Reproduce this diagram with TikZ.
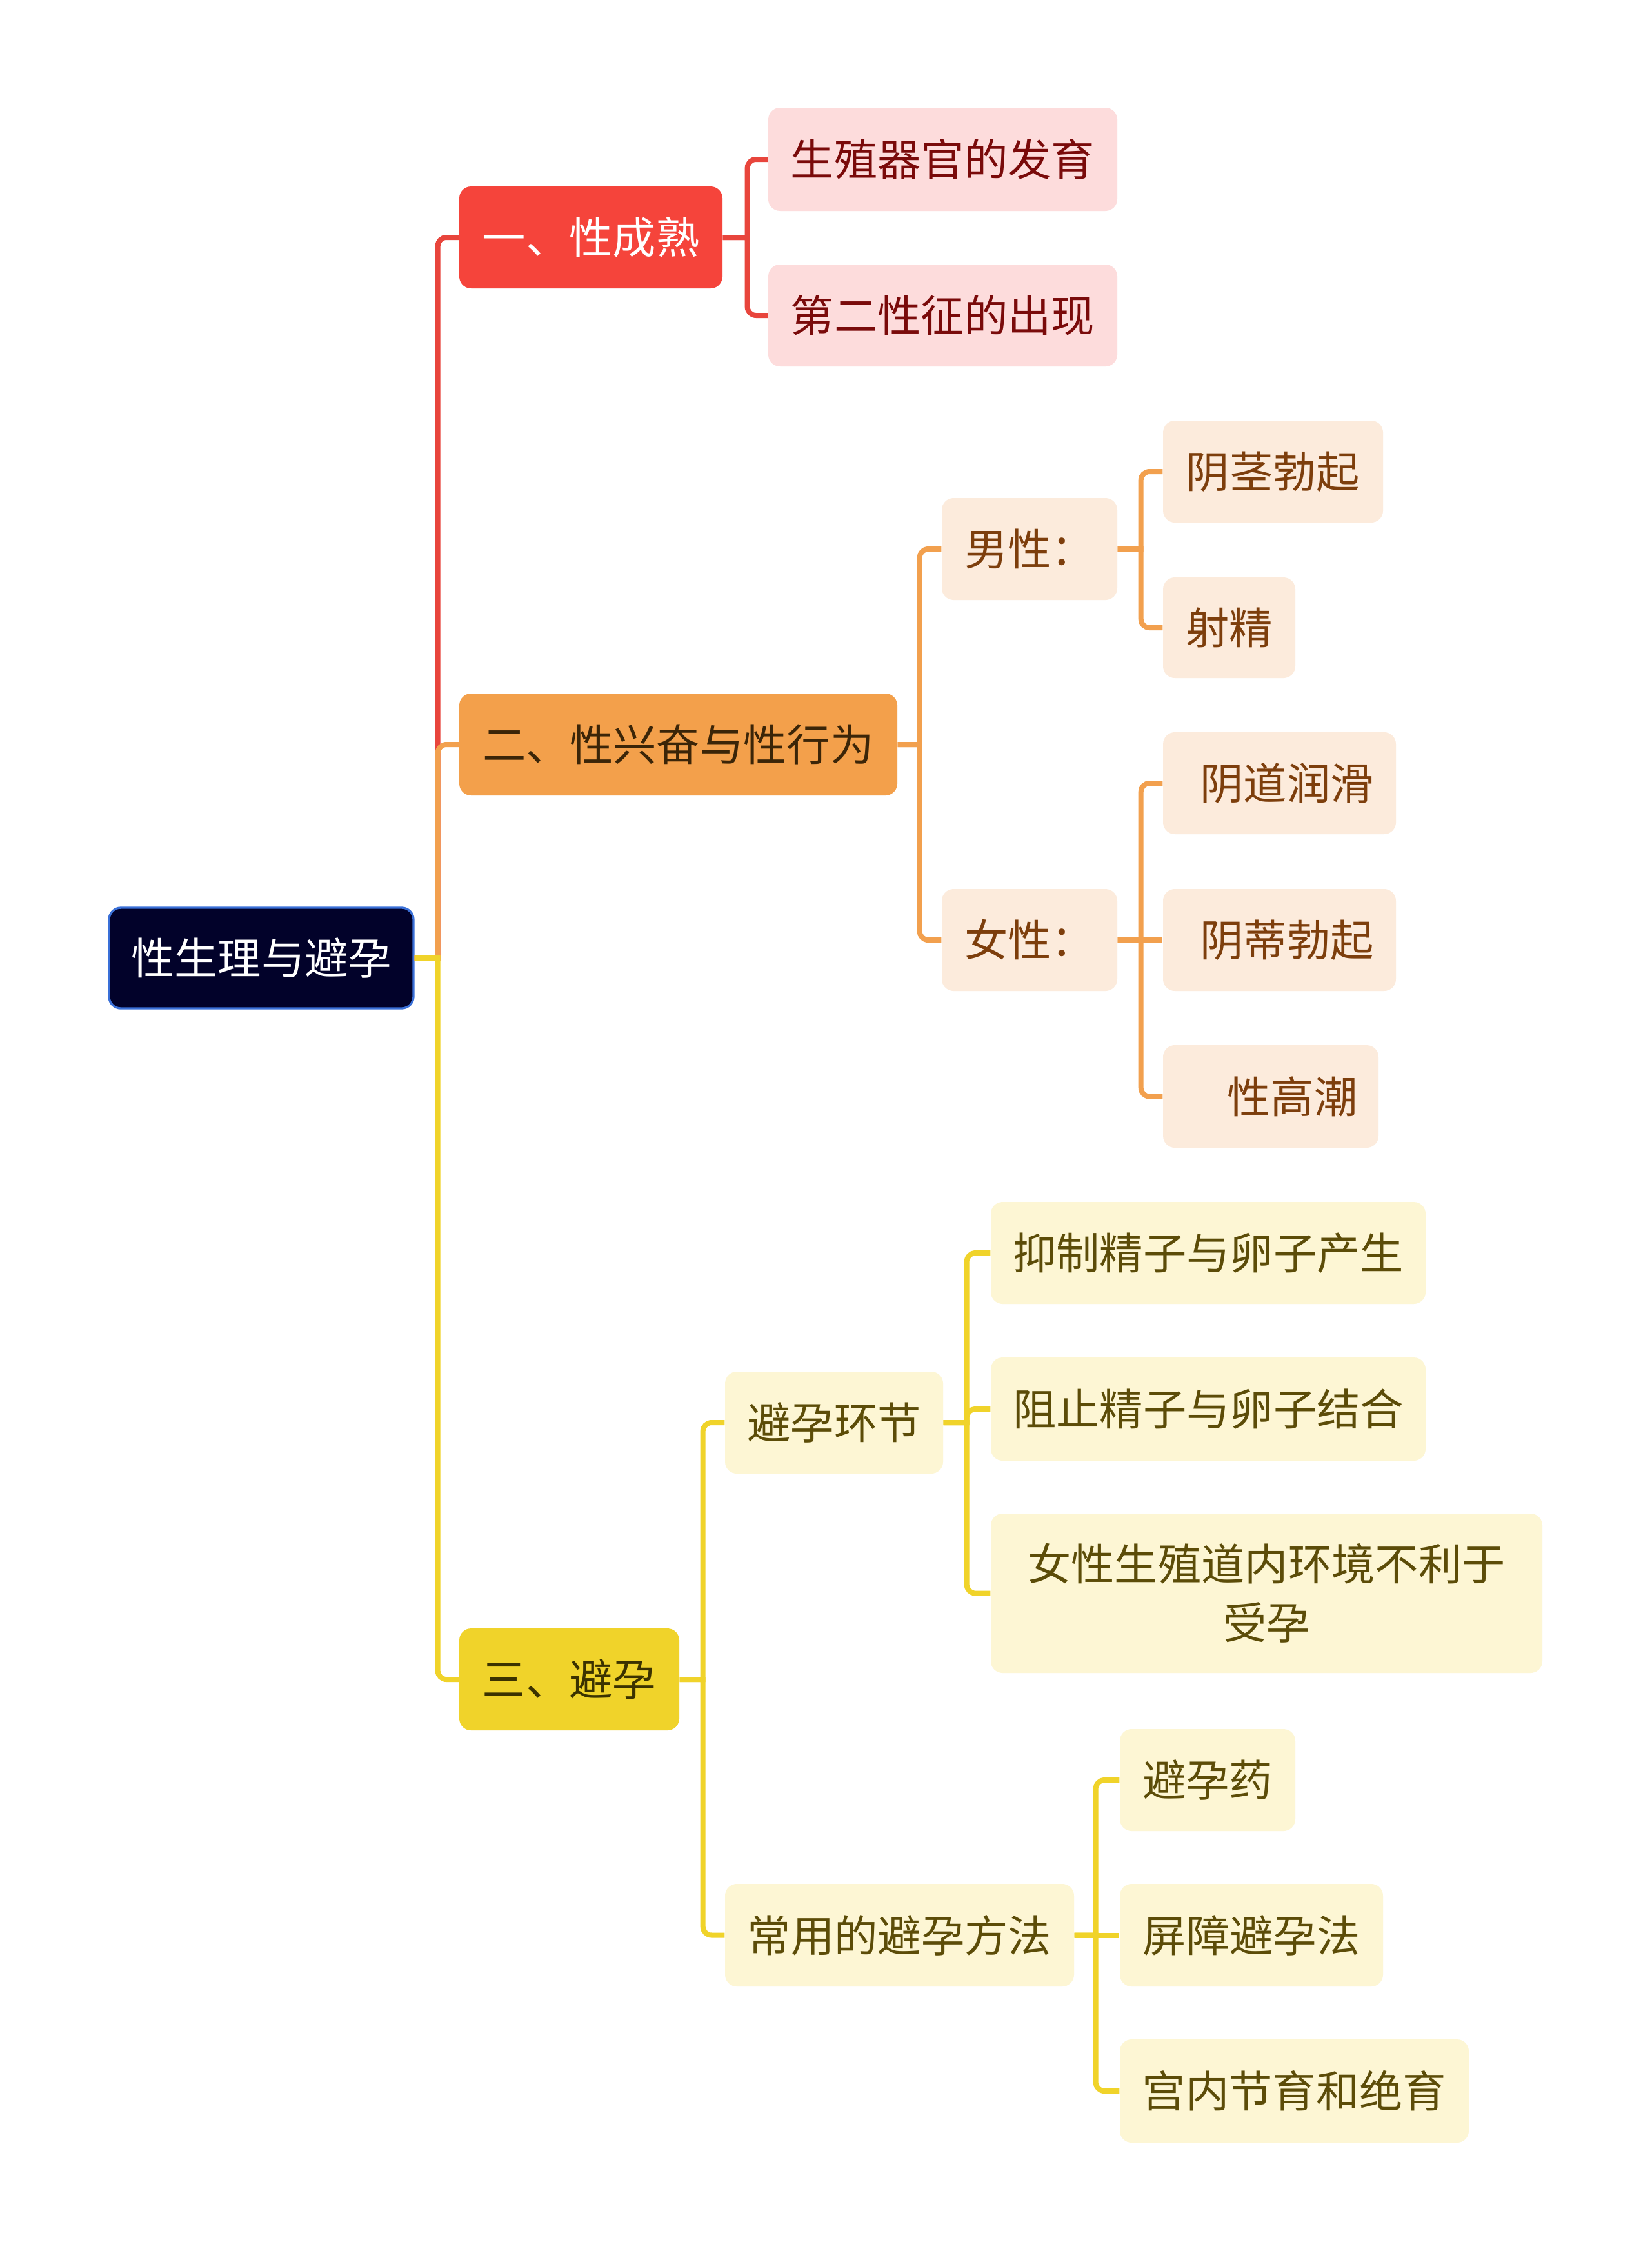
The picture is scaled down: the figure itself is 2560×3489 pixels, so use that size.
\documentclass[tikz,border=0pt]{standalone}
\usepackage{fontspec}
\newfontfamily\cjk{Noto Sans CJK SC}
\definecolor{rootfill}{HTML}{02022A}
\definecolor{rootline}{HTML}{3A70D8}
\definecolor{redA}{HTML}{F5443B}
\definecolor{redL}{HTML}{FDDCDC}
\definecolor{redT}{HTML}{7A0A0A}
\definecolor{redC}{HTML}{E8453C}
\definecolor{orA}{HTML}{F3A04B}
\definecolor{orL}{HTML}{FCEBDC}
\definecolor{orT}{HTML}{7D3E0C}
\definecolor{orC}{HTML}{F2A04E}
\definecolor{orD}{HTML}{3B2508}
\definecolor{yeA}{HTML}{F0D32A}
\definecolor{yeL}{HTML}{FDF6D4}
\definecolor{yeT}{HTML}{5C4C08}
\definecolor{yeC}{HTML}{F0D32A}
\definecolor{yeD}{HTML}{3B3200}
\newcommand\bx[7]{\node[#6, minimum width={(#4-#2)*0.3pt}, minimum height={(#5-#3)*0.3pt}] (#1) at ({(#2+#4)/2},{(#3+#5)/2}) {#7};}
\tikzset{
  box/.style={rounded corners=5.5pt, inner sep=0pt, align=center, font=\cjk\fontsize{20.2}{27.3}\selectfont},
  rootbox/.style={box, fill=rootfill, draw=rootline, line width=1pt, text=white},
  r1/.style={box, fill=redA, text=white},
  r2/.style={box, fill=redL, text=redT},
  o1/.style={box, fill=orA, text=orD},
  o2/.style={box, fill=orL, text=orT},
  y1/.style={box, fill=yeA, text=yeD},
  y2/.style={box, fill=yeL, text=yeT},
  conn/.style={line width=2.4pt},
  rc/.style={conn, draw=redC},
  oc/.style={conn, draw=orC},
  yc/.style={conn, draw=yeC}
}
\begin{document}
\begin{tikzpicture}[x=0.3pt,y=-0.3pt]
\useasboundingbox[fill=white] (0,0) rectangle (2560,3489);
% nodes
\bx{root}{169}{1407}{641}{1563}{rootbox}{性生理与避孕}
\bx{b1}{712}{289}{1120}{447}{r1}{一、性成熟}
\bx{c11}{1191}{167}{1732}{327}{r2}{生殖器官的发育}
\bx{c12}{1191}{410}{1732}{568}{r2}{第二性征的出现}
\bx{b2}{712}{1075}{1391}{1233}{o1}{二、性兴奋与性行为}
\bx{m}{1460}{772}{1732}{930}{o2}{男性：}
\bx{m1}{1803}{652}{2144}{810}{o2}{阴茎勃起}
\bx{m2}{1803}{895}{2008}{1051}{o2}{射精}
\bx{f}{1460}{1378}{1732}{1536}{o2}{女性：}
\bx{f1}{1803}{1135}{2164}{1293}{o2}{\hspace*{7pt}阴道润滑}
\bx{f2}{1803}{1378}{2164}{1536}{o2}{\hspace*{7pt}阴蒂勃起}
\bx{f3}{1803}{1620}{2137}{1779}{o2}{\hspace*{20pt}性高潮}
\bx{b3}{712}{2524}{1053}{2682}{y1}{三、避孕}
\bx{h}{1124}{2126}{1462}{2284}{y2}{避孕环节}
\bx{h1}{1536}{1863}{2210}{2021}{y2}{抑制精子与卵子产生}
\bx{h2}{1536}{2104}{2210}{2264}{y2}{阻止精子与卵子结合}
\bx{h3}{1536}{2346}{2391}{2593}{y2}{女性生殖道内环境不利于\\受孕}
\bx{u}{1124}{2920}{1665}{3079}{y2}{常用的避孕方法}
\bx{u1}{1736}{2680}{2008}{2838}{y2}{避孕药}
\bx{u2}{1736}{2920}{2144}{3079}{y2}{屏障避孕法}
\bx{u3}{1736}{3161}{2277}{3321}{y2}{宫内节育和绝育}
% trunk
\draw[rc] (root.east) -- ++(36,0) [rounded corners=4pt] |- (b1.west);
\draw[oc] (root.east) -- ++(36,0) [rounded corners=4pt] |- (b2.west);
\draw[yc] (root.east) -- ++(36,0) [rounded corners=4pt] |- (b3.west);
% branch 1
\draw[rc] (b1.east) -- ++(38,0) [rounded corners=4pt] |- (c11.west);
\draw[rc] (b1.east) -- ++(38,0) [rounded corners=4pt] |- (c12.west);
% branch 2
\draw[oc] (b2.east) -- ++(34,0) [rounded corners=4pt] |- (m.west);
\draw[oc] (b2.east) -- ++(34,0) [rounded corners=4pt] |- (f.west);
\draw[oc] (m.east) -- ++(36,0) [rounded corners=4pt] |- (m1.west);
\draw[oc] (m.east) -- ++(36,0) [rounded corners=4pt] |- (m2.west);
\draw[oc] (f.east) -- ++(36,0) [rounded corners=4pt] |- (f1.west);
\draw[oc] (f.east) -- (f2.west);
\draw[oc] (f.east) -- ++(36,0) [rounded corners=4pt] |- (f3.west);
% branch 3
\draw[yc] (b3.east) -- ++(36,0) [rounded corners=4pt] |- (h.west);
\draw[yc] (b3.east) -- ++(36,0) [rounded corners=4pt] |- (u.west);
\draw[yc] (h.east) -- ++(36,0) [rounded corners=4pt] |- (h1.west);
\draw[yc] (h.east) -- ++(36,0) [rounded corners=4pt] |- (h2.west);
\draw[yc] (h.east) -- ++(36,0) [rounded corners=4pt] |- (h3.west);
\draw[yc] (u.east) -- ++(33,0) [rounded corners=4pt] |- (u1.west);
\draw[yc] (u.east) -- (u2.west);
\draw[yc] (u.east) -- ++(33,0) [rounded corners=4pt] |- (u3.west);
\end{tikzpicture}
\end{document}
